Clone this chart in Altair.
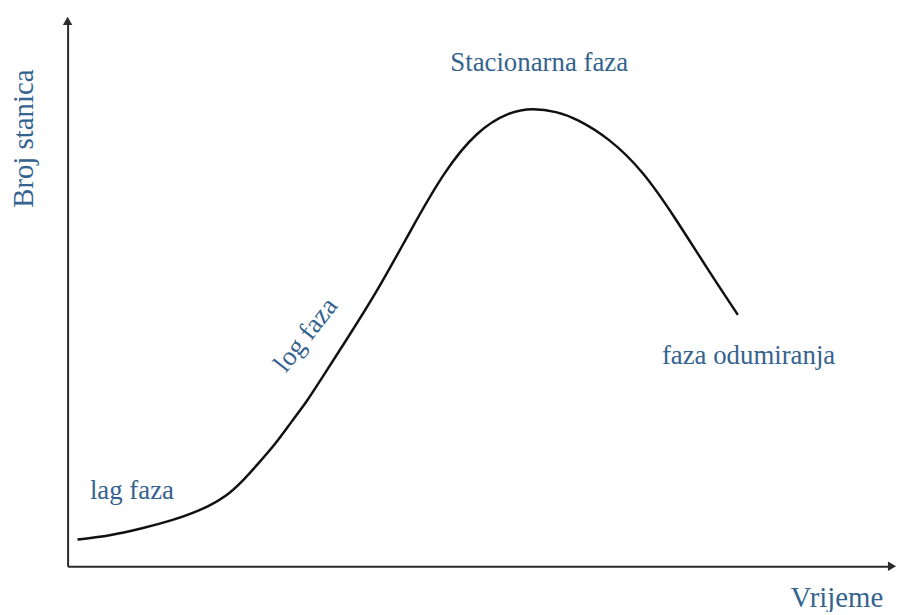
import altair as alt
import pandas as pd

# Growth curve (time in arbitrary units 0-100, cell count 0-100)
time_vals = [1.2, 5.1, 9.0, 13.1, 15.1, 17.1, 19.2, 21.1, 23.1, 25.2, 27.1, 29.2, 30.7, 33.6,
             37.6, 41.6, 45.7, 49.6, 53.6, 56.5, 59.3, 61.7, 65.7, 69.8, 73.7, 77.7, 81.3]
count_vals = [4.9, 5.6, 6.9, 8.6, 9.7, 11.0, 12.8, 15.4, 18.8, 22.4, 26.4, 30.6, 34.2, 41.0,
              50.5, 61.6, 72.5, 79.8, 83.4, 84.0, 83.4, 82.1, 78.5, 72.5, 63.9, 54.3, 46.1]

# Phase labels
label_text = ["lag faza", "log faza", "Stacionarna faza", "faza odumiranja"]
label_t = [7.8, 28.9, 57.2, 82.6]
label_n = [13.8, 42.4, 92.2, 38.6]
label_angle = [0, 308, 0, 0]

BLUE = "#34638f"
AXIS = "#2b2b2b"
FONT = "Liberation Serif"

curve = pd.DataFrame({"t": time_vals, "n": count_vals})
labels = pd.DataFrame({"txt": label_text, "t": label_t, "n": label_n, "ang": label_angle})
arrows = pd.DataFrame({"t": [0, 100], "n": [100, 0], "shape": ["triangle-up", "triangle-right"]})

xs = alt.Scale(domain=[0, 100], nice=False, zero=False)
ys = alt.Scale(domain=[0, 100], nice=False, zero=False)

x_axis = alt.Axis(title="Vrijeme", ticks=False, labels=False, grid=False,
                  domainColor=AXIS, domainWidth=2,
                  titleFont=FONT, titleFontSize=29, titleFontWeight="normal",
                  titleColor=BLUE, titleX=774, titleY=32,
                  titleAlign="center", titleBaseline="middle")
y_axis = alt.Axis(title="Broj stanica", ticks=False, labels=False, grid=False,
                  domainColor=AXIS, domainWidth=2,
                  titleFont=FONT, titleFontSize=29, titleFontWeight="normal",
                  titleColor=BLUE, titleX=-44, titleY=118, titleAngle=270,
                  titleAlign="center", titleBaseline="middle")

line = alt.Chart(curve).mark_line(color="#111111", strokeWidth=2.5, interpolate="basis").encode(
    x=alt.X("t:Q", scale=xs, axis=x_axis),
    y=alt.Y("n:Q", scale=ys, axis=y_axis),
)

heads = alt.Chart(arrows).mark_point(filled=True, color=AXIS, size=90, opacity=1).encode(
    x=alt.X("t:Q", scale=xs),
    y=alt.Y("n:Q", scale=ys),
    shape=alt.Shape("shape:N", scale=None),
)

text = alt.Chart(labels).mark_text(font=FONT, fontSize=27, color=BLUE,
                                   align="center", baseline="middle").encode(
    x=alt.X("t:Q", scale=xs),
    y=alt.Y("n:Q", scale=ys),
    text="txt:N",
    angle=alt.Angle("ang:Q", scale=None),
)

chart = alt.layer(line, heads, text).properties(
    width=830, height=549,
    background="white",
    autosize=alt.AutoSizeParams(type="none"),
    padding={"left": 60, "top": 11, "right": 5, "bottom": 44},
).configure_view(strokeWidth=0, stroke=None)

chart.save("out.html", embed_options={"renderer": "svg", "actions": False})
